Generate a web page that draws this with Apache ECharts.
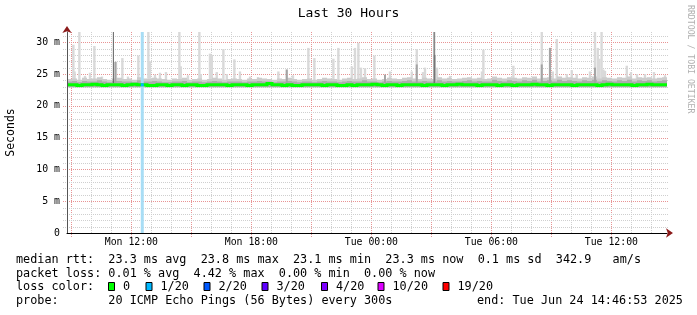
<!DOCTYPE html>
<html><head><meta charset="utf-8">
<script src="https://cdn.jsdelivr.net/npm/echarts@6/dist/echarts.min.js"></script>
<style>html,body{margin:0;padding:0;background:#fff}#c{width:697px;height:315px}</style>
</head><body><div id="c"></div>
<script>
// time in hours since Mon 00:00; window ends Tue 14:46:53
const T0 = 8 + 46/60 + 53/3600;
const SPAN = 30;
const BIN = 0.25;
const Y_MAX = 31.6;
const SMOKE_FLOOR = 22.9;

const gridHours = [9,10,11,12,13,14,15,16,17,18,19,20,21,22,23,24,25,26,27,28,29,30,31,32,33,34,35,36,37,38];
const majorHours = [9,12,15,18,21,24,27,30,33,36];
const xTickHours = [12,18,24,30,36];
const xTickLabels = ['Mon 12:00','Mon 18:00','Tue 00:00','Tue 06:00','Tue 12:00'];
const gridMs = [0,1,2,3,4,5,6,7,8,9,10,11,12,13,14,15,16,17,18,19,20,21,22,23,24,25,26,27,28,29,30,31];
const yMajor = [5,10,15,20,25,30];
const yTickValues = [0,5,10,15,20,25,30];
const yTickLabels = ['0','5 m','10 m','15 m','20 m','25 m','30 m'];

// median rtt (ms), 15-minute bins
const median = [
 23.3,23.3,23.2,23.3,23.3,23.4,23.3,23.2,23.3,23.3,
 23.3,23.2,23.3,23.4,23.3,23.3,23.2,23.2,23.3,23.3,
 23.2,23.3,23.3,23.2,23.3,23.3,23.2,23.2,23.3,23.3,
 23.3,23.3,23.2,23.3,23.3,23.3,23.2,23.3,23.3,23.3,
 23.5,23.3,23.3,23.2,23.3,23.2,23.2,23.3,23.3,23.3,
 23.3,23.2,23.3,23.3,23.2,23.2,23.3,23.2,23.3,23.3,
 23.3,23.4,23.3,23.2,23.3,23.3,23.2,23.3,23.3,23.3,
 23.3,23.2,23.3,23.3,23.3,23.2,23.3,23.3,23.4,23.3,
 23.3,23.3,23.2,23.3,23.3,23.3,23.2,23.3,23.3,23.2,
 23.3,23.3,23.3,23.4,23.3,23.3,23.2,23.3,23.3,23.3,
 23.3,23.2,23.3,23.3,23.3,23.3,23.2,23.3,23.4,23.3,
 23.3,23.3,23.3,23.2,23.3,23.3,23.4,23.3,23.3,23.3
];
// upper edge of the dense smoke band
const smokeOuter = [
 24.2,24.3,24.1,24.4,24.2,24.3,24.5,24.2,24.1,24.3,
 24.4,24.2,24.3,24.1,24.5,24.3,24.2,24.4,24.3,24.2,
 24.1,24.3,24.2,24.4,24.1,24.2,24.3,24.1,24.2,24.4,
 24.3,24.1,24.2,24.3,24.2,24.1,24.3,24.2,24.4,24.3,
 24.2,24.1,24.3,24.2,24.4,24.2,24.1,24.2,24.3,24.1,
 24.2,24.4,24.3,24.2,24.1,24.3,24.4,24.2,24.3,24.5,
 24.2,24.3,24.1,24.2,24.4,24.3,24.2,24.4,24.5,24.3,
 24.2,24.4,24.3,24.2,24.5,24.3,24.4,24.2,24.3,24.4,
 24.5,24.3,24.4,24.2,24.3,24.6,24.4,24.3,24.5,24.4,
 24.3,24.5,24.4,24.6,24.3,24.4,24.5,24.3,24.6,24.4,
 24.5,24.4,24.3,24.5,24.4,24.6,24.3,24.5,24.4,24.3,
 24.5,24.4,24.6,24.3,24.5,24.4,24.5,24.3,24.4,24.5
];
// upper edge of the darker inner smoke
const smokeInner = [
 23.8,23.9,23.7,23.9,23.8,23.8,24.0,23.8,23.7,23.9,
 23.9,23.8,23.8,23.7,24.0,23.8,23.8,23.9,23.8,23.7,
 23.7,23.8,23.8,23.9,23.7,23.8,23.8,23.7,23.8,23.9,
 23.8,23.7,23.8,23.8,23.8,23.7,23.8,23.8,23.9,23.8,
 23.8,23.7,23.8,23.8,23.9,23.8,23.7,23.8,23.8,23.7,
 23.8,23.9,23.8,23.8,23.7,23.8,23.9,23.8,23.8,24.0,
 23.8,23.8,23.7,23.8,23.9,23.8,23.8,23.9,24.0,23.8,
 23.8,23.9,23.8,23.8,24.0,23.8,23.9,23.8,23.8,23.9,
 24.0,23.8,23.9,23.8,23.8,24.1,23.9,23.8,24.0,23.9,
 23.8,24.0,23.9,24.1,23.8,23.9,24.0,23.8,24.1,23.9,
 24.0,23.9,23.8,24.0,23.9,24.1,23.8,24.0,23.9,23.8,
 24.0,23.9,24.1,23.8,24.0,23.9,24.0,23.8,23.9,24.0
];
// outlier pings: [hour, top ms]
const lightSpikes = [
 [9.10,29.6],[9.16,25.4],[9.40,31.6],[9.68,24.7],[9.93,25.2],[10.15,29.4],[10.53,24.6],[11.23,26.9],
 [11.55,27.5],[11.83,24.6],[12.35,27.9],[12.85,31.6],[12.93,27.0],[13.18,24.9],[13.43,25.2],[13.73,25.3],
 [14.40,31.6],[14.47,26.2],[14.83,24.8],[15.40,31.6],[15.47,25.0],[15.93,28.2],[16.02,28.0],[16.27,25.3],
 [16.60,28.9],[16.77,25.0],[17.15,27.3],[17.43,25.4],[17.93,24.6],[18.33,24.5],[19.35,25.4],[19.77,25.7],
 [20.08,24.8],[20.85,29.1],[21.15,27.5],[22.10,27.4],[22.35,29.1],[23.02,26.2],[23.18,29.1],[23.35,29.9],
 [23.48,26.0],[23.68,25.9],[24.15,27.9],[24.93,25.4],[26.02,25.4],[26.27,28.9],[26.58,25.3],[26.68,26.0],
 [27.15,31.6],[27.28,26.0],[27.93,24.7],[29.53,25.4],[29.60,28.8],[31.10,26.3],[32.52,31.6],[32.93,29.1],
 [33.07,25.4],[33.27,30.5],[33.77,25.0],[34.02,25.6],[34.27,25.0],[34.93,25.4],[35.18,31.6],[35.32,29.1],
 [35.40,27.4],[35.51,31.6],[35.60,25.7],[35.68,25.5],[36.77,26.3],[36.98,25.3],[37.28,25.0],[37.68,25.0],
 [38.13,25.3],[38.68,24.8]
];
const midSpikes = [[11.20,26.9],[19.77,25.7],[24.68,24.9],[26.27,26.5],[27.17,28.0],[32.52,26.5],[32.93,29.1],[35.18,26.0]];
const darkSpikes = [[11.10,31.6],[27.14,31.6]];
// loss events: [start hour, end hour, lost pings out of 20]
const lossEvents = [[12.47,12.62,1]];

const lossLegendLabels = ['0','1/20','2/20','3/20','4/20','10/20','19/20'];
const lossLegendColors = ['#00ff00','#00b8ff','#0059ff','#5e00ff','#7e00ff','#dd00ff','#ff0000'];
const lossLevels = [0,1,2,3,4,10,19];

const legendRows = [
  'median rtt:  23.3 ms avg  23.8 ms max  23.1 ms min  23.3 ms now  0.1 ms sd  342.9   am/s',
  'packet loss: 0.01 % avg  4.42 % max  0.00 % min  0.00 % now',
  'loss color:',
  'probe:       20 ICMP Echo Pings (56 Bytes) every 300s'
];
const endText = 'end: Tue Jun 24 14:46:53 2025';

const MONO = '"DejaVu Sans Mono", monospace';
const MINOR = '#cfcfcf';
const MAJOR = '#e89494';
const ARROW = '#8b1a1a';
const LFONT = '11.8px ' + MONO;

function lossColor(n){
  let c = lossLegendColors[0];
  lossLevels.forEach((lv,i)=>{ if(n>=lv) c = lossLegendColors[i]; });
  return c;
}

function bandSeries(tops, color){
  return {
    type:'custom', xAxisIndex:0, yAxisIndex:0, silent:true, clip:true,
    data:[[T0, SMOKE_FLOOR]],
    renderItem(params, api){
      const pts = [];
      tops.forEach((v,i)=>{
        pts.push(api.coord([T0+i*BIN, v]));
        pts.push(api.coord([T0+(i+1)*BIN, v]));
      });
      pts.push(api.coord([T0+tops.length*BIN, SMOKE_FLOOR]));
      pts.push(api.coord([T0, SMOKE_FLOOR]));
      return {type:'polygon', shape:{points:pts}, style:{fill:color}};
    }
  };
}
function spikeSeries(list, color, w){
  return {
    type:'custom', xAxisIndex:0, yAxisIndex:0, silent:true, clip:true,
    data:list.map(d=>[d[0], d[1]]),
    renderItem(params, api){
      const t = api.value(0), v = api.value(1);
      const a = api.coord([t - w/2, v]);
      const b = api.coord([t + w/2, 23.6]);
      return {type:'rect', shape:{x:a[0], y:a[1], width:Math.max(1,b[0]-a[0]), height:b[1]-a[1]}, style:{fill:color}};
    }
  };
}

const series = [
  // vertical grid (hourly, red every 3 h) with ticks under the axis at the majors
  {
    type:'custom', xAxisIndex:0, yAxisIndex:0, silent:true, clip:false,
    data:gridHours.map(h=>[h, majorHours.indexOf(h) >= 0 ? 1 : 0]),
    renderItem(params, api){
      const h = api.value(0), major = api.value(1);
      const a = api.coord([h, Y_MAX]), b = api.coord([h, 0]);
      const x = Math.round(a[0]) + 0.5;
      return {type:'line', shape:{x1:x, y1:Math.round(a[1]), x2:x, y2:Math.round(b[1]) + (major ? 4 : 0)},
        style:{stroke: major ? MAJOR : MINOR, lineWidth:1, lineDash:[1,1]}};
    }
  },
  // horizontal grid (every 1 ms, red every 5 ms) with ticks left of the axis
  {
    type:'custom', xAxisIndex:0, yAxisIndex:0, silent:true, clip:false,
    data:gridMs.filter(v=>v>0).map(v=>[v, yMajor.indexOf(v) >= 0 ? 1 : 0]),
    renderItem(params, api){
      const v = api.value(0), major = api.value(1);
      const a = api.coord([T0, v]), b = api.coord([T0+SPAN, v]);
      const y = Math.round(a[1]) + 0.5;
      return {type:'line', shape:{x1:Math.round(a[0]) - 4, y1:y, x2:Math.round(b[0]) + 1, y2:y},
        style:{stroke: major ? MAJOR : MINOR, lineWidth:1, lineDash:[1,1]}};
    }
  },
  spikeSeries(lightSpikes, '#d9d9d9', 0.12),
  bandSeries(smokeOuter, '#cccccc'),
  bandSeries(smokeInner, '#acacac'),
  spikeSeries(midSpikes, '#a4a4a4', 0.1),
  spikeSeries(darkSpikes, '#606060', 0.05),
  {
    type:'custom', xAxisIndex:0, yAxisIndex:0, silent:true, clip:true,
    data:lossEvents,
    renderItem(params, api){
      const a = api.coord([api.value(0), Y_MAX]);
      const b = api.coord([api.value(1), 0]);
      return {type:'rect', shape:{x:a[0], y:a[1], width:b[0]-a[0], height:b[1]-a[1]}, style:{fill:'#a8ddf5'}};
    }
  },
  {
    type:'custom', xAxisIndex:0, yAxisIndex:0, silent:true, clip:true,
    data:[[T0, median[0]]],
    renderItem(params, api){
      const pts = [];
      median.forEach((v,i)=>{
        pts.push(api.coord([T0+i*BIN, v]));
        pts.push(api.coord([T0+(i+1)*BIN, v]));
      });
      return {type:'polyline', shape:{points:pts}, style:{stroke:'#00ff00', lineWidth:3, fill:null}};
    }
  },
  {
    type:'custom', xAxisIndex:0, yAxisIndex:0, silent:true, clip:true,
    data:lossEvents,
    renderItem(params, api){
      const s = api.value(0), e = api.value(1), n = api.value(2);
      const m = median[Math.floor((s - T0)/BIN)];
      const a = api.coord([s, m]);
      const b = api.coord([e, m]);
      return {type:'line', shape:{x1:a[0], y1:a[1], x2:b[0], y2:b[1]}, style:{stroke:lossColor(n), lineWidth:3}};
    }
  }
];

const graphic = [];
function txt(x, y, s){
  graphic.push({type:'text', x:x, y:y, silent:true,
    style:{text:s, font:LFONT, fill:'#000', textVerticalAlign:'middle', verticalAlign:'middle'}});
}
const rowY = [260, 273.5, 287, 301];
legendRows.forEach((r,i)=>txt(16, rowY[i], r));
txt(477, rowY[3], endText);
const boxX = [108,145.5,203.5,261.5,321,377.5,442.5];
lossLegendLabels.forEach((lab,i)=>{
  graphic.push({type:'rect', silent:true, shape:{x:boxX[i]+0.5, y:282.5, width:6, height:8},
    style:{fill:lossLegendColors[i], stroke:'#000', lineWidth:1}});
  txt(boxX[i]+15, rowY[2], lab);
});
graphic.push({type:'text', x:690, y:5, rotation:-Math.PI/2, silent:true,
  style:{text:'RRDTOOL / TOBI OETIKER', font:'8.2px ' + MONO, fill:'#b0b0b0', textVerticalAlign:'middle', verticalAlign:'middle'}});

const chart = echarts.init(document.getElementById('c'), null, {renderer:'canvas'});
chart.setOption({
  animation:false,
  backgroundColor:'#ffffff',
  title:{text:'Last 30 Hours', left:'center', top:2,
    textStyle:{fontFamily:MONO, fontSize:13, fontWeight:'normal', color:'#000'}},
  grid:{left:67, right:30, top:32, bottom:82, containLabel:false, outerBoundsMode:'none'},
  xAxis:[
    {type:'value', min:T0, max:T0+SPAN, position:'bottom', z:5,
     axisLine:{show:true, onZero:false, lineStyle:{color:'#000', width:1}},
     axisTick:{show:false}, axisLabel:{show:false}, splitLine:{show:false}},
    {type:'value', min:T0, max:T0+SPAN, position:'bottom', z:5,
     axisLine:{show:true, onZero:false, symbol:['none','arrow'], symbolSize:[7,7], symbolOffset:[0,6], lineStyle:{color:ARROW, width:0}},
     axisTick:{show:false},
     axisLabel:{show:true, customValues:xTickHours, margin:4, fontFamily:MONO, fontSize:9.85, color:'#000',
       formatter:(v)=>{ const i = xTickHours.findIndex(h=>Math.abs(h-v)<1e-6); return i>=0 ? xTickLabels[i] : ''; }},
     splitLine:{show:false}}
  ],
  yAxis:[
    {type:'value', min:0, max:Y_MAX, position:'left', z:5,
     axisLine:{show:true, onZero:false, lineStyle:{color:'#555', width:1}},
     axisTick:{show:false},
     axisLabel:{show:true, customValues:yTickValues, margin:7, fontFamily:MONO, fontSize:9.85, color:'#000',
       formatter:(v)=>{ const i = yTickValues.findIndex(h=>Math.abs(h-v)<1e-6); return i>=0 ? yTickLabels[i] : ''; }},
     splitLine:{show:false},
     name:'Seconds', nameLocation:'middle', nameGap:50, nameRotate:90,
     nameTextStyle:{fontFamily:MONO, fontSize:11.5, color:'#000'}},
    {type:'value', min:0, max:Y_MAX, position:'left', z:5,
     axisLine:{show:true, onZero:false, symbol:['none','arrow'], symbolSize:[7,7], symbolOffset:[0,6], lineStyle:{color:ARROW, width:0}},
     axisTick:{show:false}, axisLabel:{show:false}, splitLine:{show:false}}
  ],
  series:series,
  graphic:graphic
});
</script></body></html>
